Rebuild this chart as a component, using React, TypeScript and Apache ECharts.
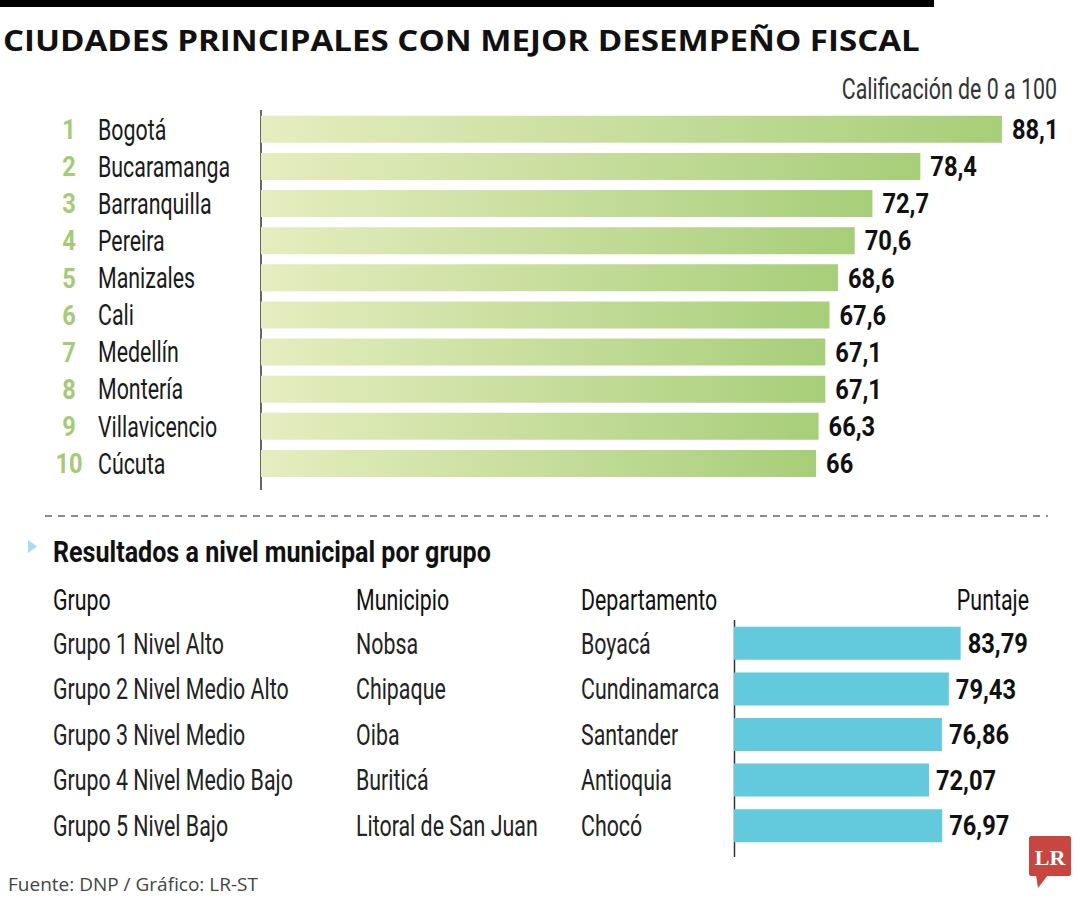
import React, { useEffect, useRef } from "react";
import * as echarts from "echarts";

const cityRanks = ["1", "2", "3", "4", "5", "6", "7", "8", "9", "10"];
const cities = ["Bogotá", "Bucaramanga", "Barranquilla", "Pereira", "Manizales", "Cali", "Medellín", "Montería", "Villavicencio", "Cúcuta"];
const cityScores = [88.1, 78.4, 72.7, 70.6, 68.6, 67.6, 67.1, 67.1, 66.3, 66];

const groups = ["Grupo 1 Nivel Alto", "Grupo 2 Nivel Medio Alto", "Grupo 3 Nivel Medio", "Grupo 4 Nivel Medio Bajo", "Grupo 5 Nivel Bajo"];
const municipios = ["Nobsa", "Chipaque", "Oiba", "Buriticá", "Litoral de San Juan"];
const departamentos = ["Boyacá", "Cundinamarca", "Santander", "Antioquia", "Chocó"];
const groupScores = [83.79, 79.43, 76.86, 72.07, 76.97];

const tableHeaders = ["Grupo", "Municipio", "Departamento", "Puntaje"];

const TITLE = "CIUDADES PRINCIPALES CON MEJOR DESEMPEÑO FISCAL";
const SUBTITLE = "Calificación de 0 a 100";
const SECTION = "Resultados a nivel municipal por grupo";
const SOURCE = "Fuente: DNP / Gráfico: LR-ST";

const LIGHT_FONT = "400 29px Roboto, 'Noto Sans', sans-serif";
const BOLD_FONT = "bold 28px Roboto, 'Noto Sans', sans-serif";
const SECTION_FONT = "bold 29px Roboto, 'Noto Sans', sans-serif";
const TITLE_FONT = "bold 29px 'Open Sans', sans-serif";

function measure(text: string, font: string): number {
  const ctx = document.createElement("canvas").getContext("2d");
  if (!ctx) return text.length * 10;
  ctx.font = font;
  return ctx.measureText(text).width;
}

function fitScale(samples: [string, number][], font: string): number {
  let target = 0;
  let got = 0;
  samples.forEach(([t, w]) => {
    target += w;
    got += measure(t, font);
  });
  return got > 0 ? target / got : 1;
}

export default function App() {
  const ref = useRef<HTMLDivElement>(null);
  useEffect(() => {
    if (!ref.current) return;
    const lightScale = fitScale(
      [["Bucaramanga", 131], [SUBTITLE, 212], ["Grupo 4 Nivel Medio Bajo", 244], ["Villavicencio", 119]],
      LIGHT_FONT
    );
    const boldScale = fitScale([["88,1", 45], ["83,79", 60.7], ["78,4", 47.7]], BOLD_FONT);
    const sectionScale = fitScale([[SECTION, 438]], SECTION_FONT);
    const titleScale = fitScale([[TITLE, 917]], TITLE_FONT);

    const chart = echarts.init(ref.current, null, { renderer: "svg" });
    const green = new echarts.graphic.LinearGradient(0, 0, 1, 0, [
      { offset: 0, color: "#e6edbf" },
      { offset: 1, color: "#a7ce79" },
    ]);
    const lightText = (text: string, x: number, y: number, align: string, fill = "#1a1a1a") => ({
      type: "text",
      x,
      y,
      scaleX: lightScale,
      style: { text, font: LIGHT_FONT, fill, align, verticalAlign: "middle" },
    });
    const boldText = (text: string, x: number, y: number, align: string, fill = "#111") => ({
      type: "text",
      x,
      y,
      scaleX: boldScale,
      style: { text, font: BOLD_FONT, fill, align, verticalAlign: "middle" },
    });

    const option: any = {
      animation: false,
      backgroundColor: "#ffffff",
      grid: [
        { left: 261, top: 110.7, width: 756.9, height: 371.3 },
        { left: 734, top: 620.5, width: 270.5, height: 228 },
      ],
      xAxis: [
        { gridIndex: 0, type: "value", min: 0, max: 90, show: false },
        { gridIndex: 1, type: "value", min: 0, max: 100, show: false },
      ],
      yAxis: [
        {
          gridIndex: 0,
          type: "category",
          inverse: true,
          data: cities,
          axisLine: { show: false },
          axisTick: { show: false },
          axisLabel: { show: false },
        },
        {
          gridIndex: 1,
          type: "category",
          inverse: true,
          data: groups,
          axisLine: { show: false },
          axisTick: { show: false },
          axisLabel: { show: false },
        },
      ],
      series: [
        {
          type: "bar",
          xAxisIndex: 0,
          yAxisIndex: 0,
          data: cityScores,
          barWidth: 27,
          itemStyle: { color: green },
        },
        {
          type: "bar",
          xAxisIndex: 1,
          yAxisIndex: 1,
          data: groupScores,
          barWidth: 33,
          itemStyle: { color: "#63c9dc" },
        },
        {
          type: "custom",
          xAxisIndex: 0,
          yAxisIndex: 0,
          z: 10,
          silent: true,
          data: cityScores.map((v, i) => [v, i]),
          encode: { x: 0, y: 1 },
          renderItem: (params: any, api: any) => {
            const i = api.value(1);
            const v = api.value(0);
            const base = api.coord([0, i]);
            const end = api.coord([v, i]);
            return {
              type: "group",
              children: [
                boldText(cityRanks[i], base[0] - 192, base[1], "center", "#a5cb74"),
                lightText(cities[i], base[0] - 163, base[1], "left"),
                boldText(String(v).replace(".", ","), end[0] + 10, base[1], "left"),
              ],
            };
          },
        },
        {
          type: "custom",
          xAxisIndex: 1,
          yAxisIndex: 1,
          z: 10,
          silent: true,
          data: groupScores.map((v, i) => [v, i]),
          encode: { x: 0, y: 1 },
          renderItem: (params: any, api: any) => {
            const i = api.value(1);
            const v = api.value(0);
            const base = api.coord([0, i]);
            const end = api.coord([v, i]);
            return {
              type: "group",
              children: [
                lightText(groups[i], base[0] - 681, base[1], "left", "#222"),
                lightText(municipios[i], base[0] - 378, base[1], "left", "#222"),
                lightText(departamentos[i], base[0] - 153, base[1], "left", "#222"),
                boldText(Number(v).toFixed(2).replace(".", ","), end[0] + 7, base[1], "left"),
              ],
            };
          },
        },
      ],
      graphic: [
        { type: "rect", shape: { x: 0, y: 0, width: 934, height: 7 }, style: { fill: "#000" } },
        {
          type: "text",
          x: 3,
          y: 40,
          scaleX: titleScale,
          style: { text: TITLE, fill: "#111", font: TITLE_FONT, verticalAlign: "middle", align: "left" },
        },
        lightText(SUBTITLE, 1057, 89, "right", "#333"),
        { type: "line", shape: { x1: 261, y1: 110, x2: 261, y2: 490 }, style: { stroke: "#333", lineWidth: 1.5 } },
        { type: "line", shape: { x1: 45, y1: 516, x2: 1048, y2: 516 }, style: { stroke: "#666", lineWidth: 1.5, lineDash: [7, 6] } },
        { type: "polygon", shape: { points: [[28, 540], [28, 553], [37, 546.5]] }, style: { fill: "#a6dcef" } },
        {
          type: "text",
          x: 53,
          y: 552,
          scaleX: sectionScale,
          style: { text: SECTION, fill: "#111", font: SECTION_FONT, verticalAlign: "middle", align: "left" },
        },
        lightText(tableHeaders[0], 53, 600, "left", "#111"),
        lightText(tableHeaders[1], 356, 600, "left", "#111"),
        lightText(tableHeaders[2], 581, 600, "left", "#111"),
        lightText(tableHeaders[3], 1029, 600, "right", "#111"),
        { type: "line", shape: { x1: 734.5, y1: 620, x2: 734.5, y2: 857 }, style: { stroke: "#333", lineWidth: 1.5 } },
        {
          type: "text",
          x: 8,
          y: 884,
          style: { text: SOURCE, fill: "#444", font: "19px 'Open Sans', sans-serif", verticalAlign: "middle", align: "left" },
        },
        { type: "rect", shape: { x: 1029, y: 836, width: 42, height: 40, r: 2 }, style: { fill: "#c9453f" } },
        { type: "polygon", shape: { points: [[1036, 875], [1048, 875], [1038, 888]] }, style: { fill: "#c9453f" } },
        {
          type: "text",
          x: 1050,
          y: 857,
          style: { text: "LR", fill: "#fff", font: "bold 22px 'Liberation Serif', 'DejaVu Serif', serif", verticalAlign: "middle", align: "center" },
        },
      ],
    };
    chart.setOption(option);
    return () => chart.dispose();
  }, []);
  return <div ref={ref} style={{ position: "absolute", left: 0, top: 0, width: 1080, height: 900 }} />;
}
